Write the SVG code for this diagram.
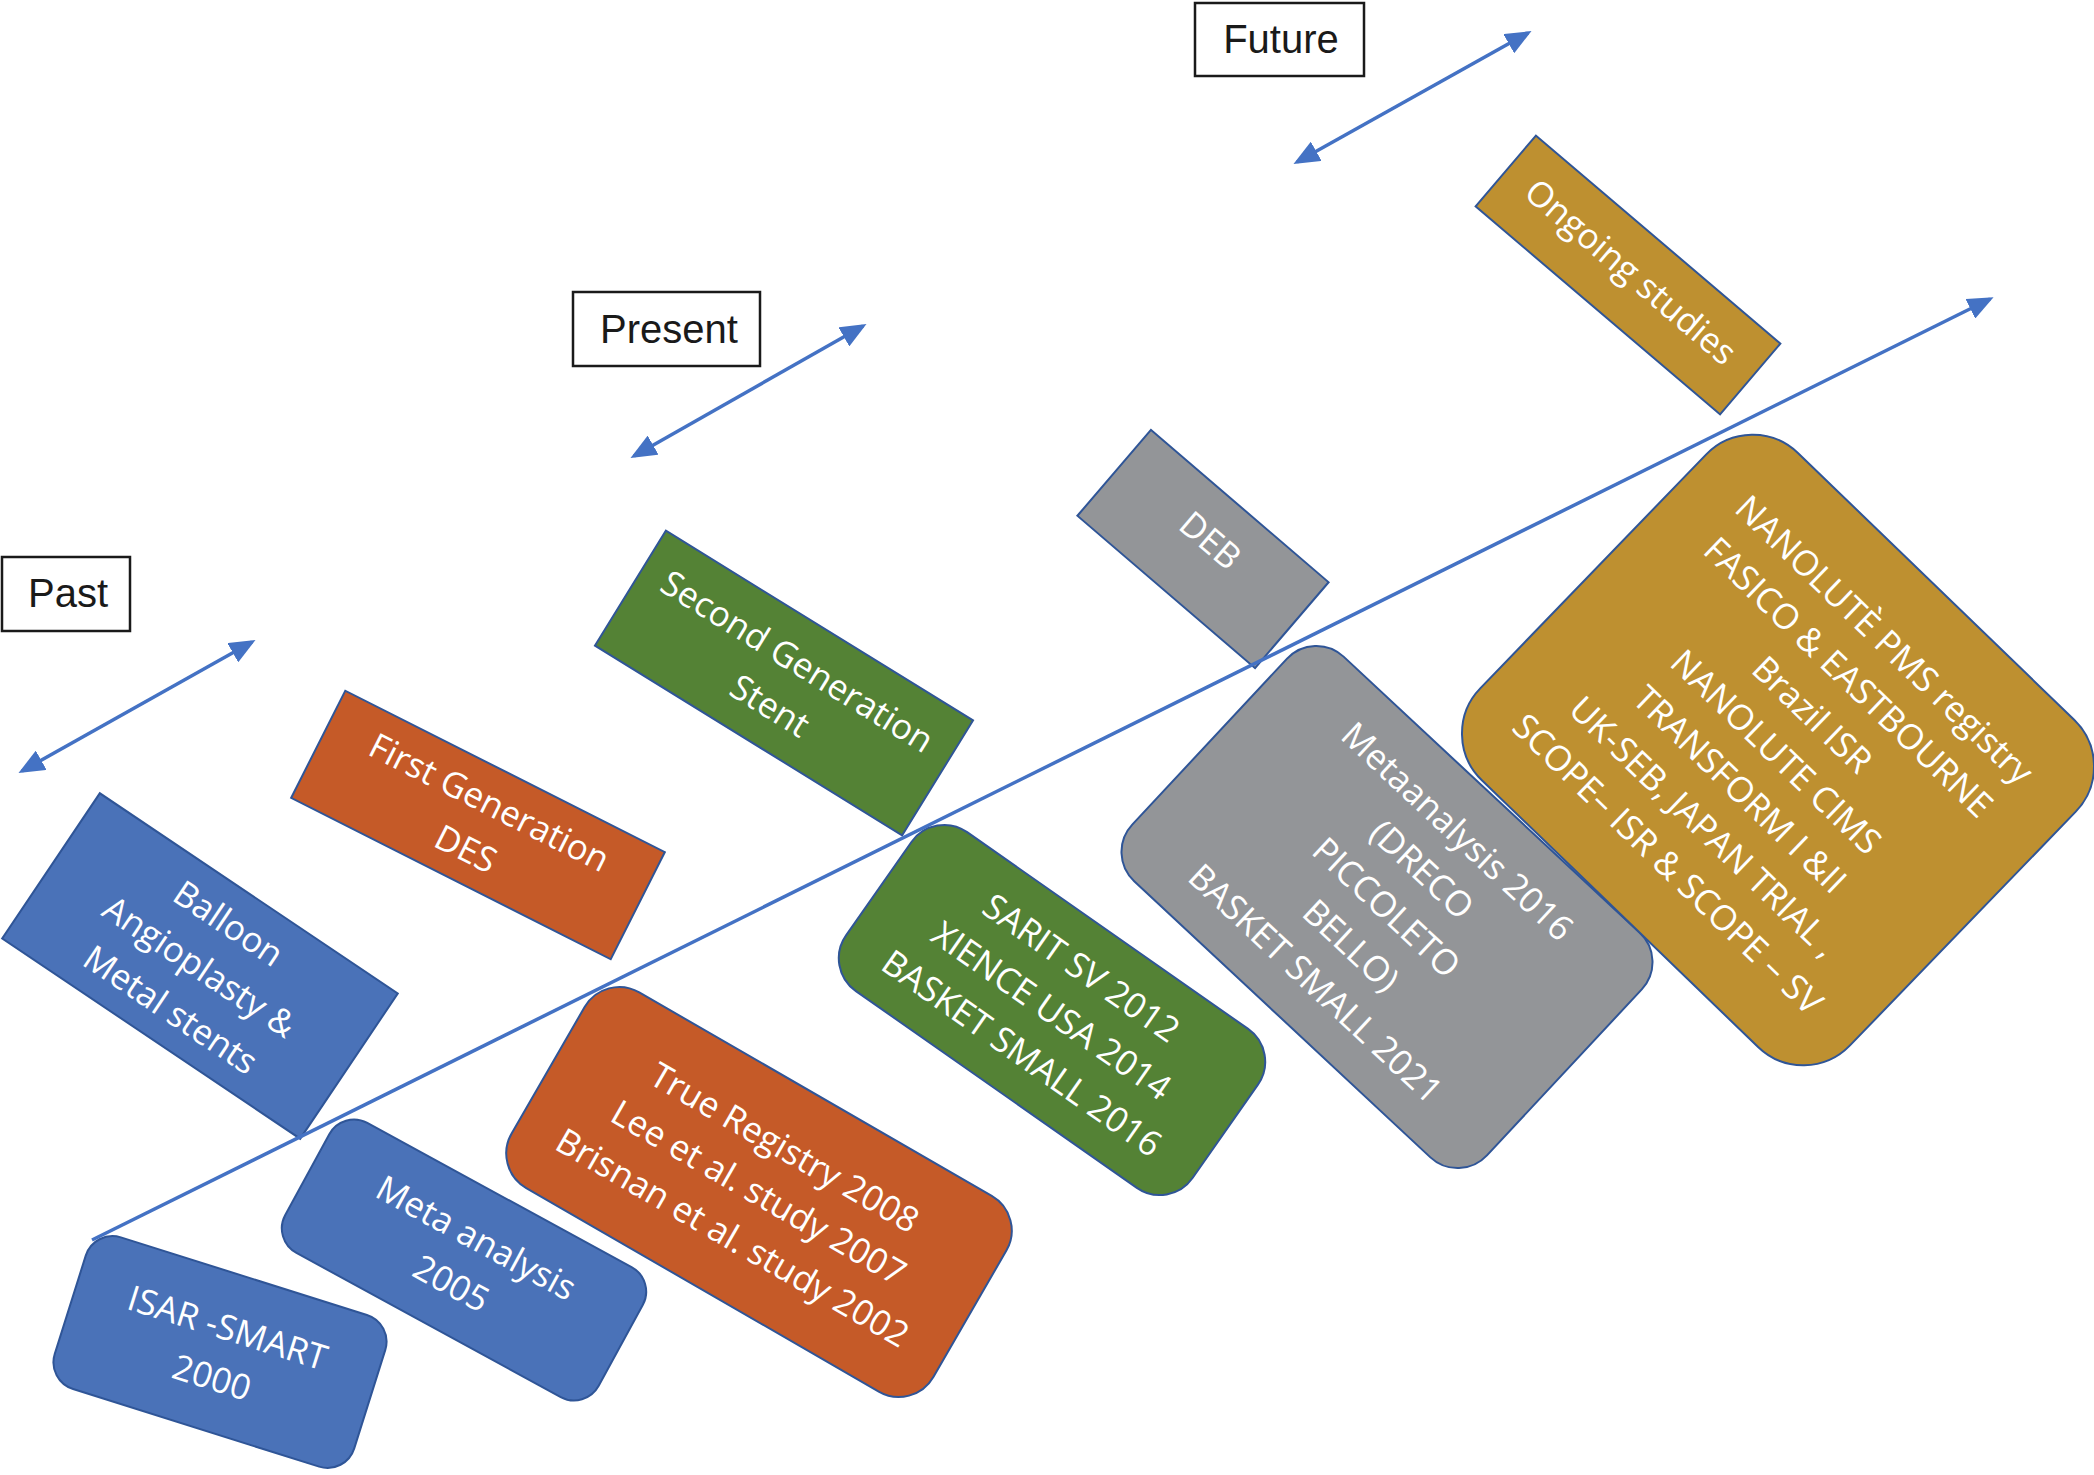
<svg xmlns="http://www.w3.org/2000/svg" width="2094" height="1475" viewBox="0 0 2094 1475">
<style>
.lbl{fill:#fff;stroke:#1a1a1a;stroke-width:2.5}
.lt{font-family:"Liberation Sans",Arial,sans-serif;font-size:40px;fill:#1a1a1a;text-anchor:middle}
.nd{stroke:#2F5597;stroke-width:2}
.t{font-family:"Open Sans","Noto Sans",sans-serif;font-size:35px;fill:#fff;text-anchor:middle}
.blue{fill:#4A72B8}.orange{fill:#C55A28}.green{fill:#548235}.gray{fill:#939598}.gold{fill:#BE9030}
.ar{fill:none;stroke:#4472C4;stroke-width:3.5}
</style>
<defs>
<marker id="ah" markerUnits="userSpaceOnUse" markerWidth="26" markerHeight="22" viewBox="0 0 26 22" refX="22" refY="11" orient="auto-start-reverse">
<path d="M0,0 L26,11 L0,22 z" fill="#4472C4"/>
</marker>
</defs>
<rect width="2094" height="1475" fill="#fff"/>

<g id="label-past"><rect class="lbl" x="2" y="557" width="128" height="74"/><text class="lt" x="68" y="607">Past</text></g>
<g id="label-present"><rect class="lbl" x="573" y="292" width="187" height="74"/><text class="lt" x="669" y="343">Present</text></g>
<g id="label-future"><rect class="lbl" x="1195" y="3" width="169" height="73"/><text class="lt" x="1281" y="53">Future</text></g>

<g id="n-balloon" transform="translate(200,966) rotate(33.9)">
<rect class="nd blue" x="-179.5" y="-87.5" width="359" height="175"/>
<text class="t"><tspan x="0" y="-39">Balloon</tspan><tspan x="0" y="13">Angioplasty &amp;</tspan><tspan x="0" y="65">Metal stents</tspan></text>
</g>
<g id="n-first-des" transform="translate(478,825) rotate(26.8)">
<rect class="nd orange" x="-179" y="-60" width="358" height="120"/>
<text class="t"><tspan x="0" y="-13">First Generation</tspan><tspan x="0" y="39">DES</tspan></text>
</g>
<g id="n-second-stent" transform="translate(784,683) rotate(31.7)">
<rect class="nd green" x="-180.5" y="-67.5" width="361" height="135"/>
<text class="t"><tspan x="0" y="-13">Second Generation</tspan><tspan x="0" y="39">Stent</tspan></text>
</g>
<g id="n-deb" transform="translate(1203,549) rotate(40.6)">
<rect class="nd gray" x="-117" y="-56.5" width="234" height="113"/>
<text class="t"><tspan x="0" y="1">DEB</tspan></text>
</g>
<g id="n-ongoing" transform="translate(1628,275) rotate(40.4)">
<rect class="nd gold" x="-160.5" y="-46.5" width="321" height="93"/>
<text class="t"><tspan x="0" y="8">Ongoing studies</tspan></text>
</g>
<g id="n-isar" transform="translate(220,1352) rotate(17.5)">
<rect class="nd blue" x="-157" y="-79.5" width="314" height="159" rx="28"/>
<text class="t"><tspan x="0" y="-13">ISAR -SMART</tspan><tspan x="0" y="39">2000</tspan></text>
</g>
<g id="n-meta2005" transform="translate(464,1260) rotate(28.6)">
<rect class="nd blue" x="-178.5" y="-74" width="357" height="148" rx="28"/>
<text class="t"><tspan x="0" y="-13">Meta analysis</tspan><tspan x="0" y="39">2005</tspan></text>
</g>
<g id="n-true" transform="translate(759,1192) rotate(30)">
<rect class="nd orange" x="-243.5" y="-113" width="487" height="226" rx="40"/>
<text class="t"><tspan x="0" y="-39">True Registry 2008</tspan><tspan x="0" y="13">Lee et al. study 2007</tspan><tspan x="0" y="65">Brisnan et al. study 2002</tspan></text>
</g>
<g id="n-sarit" transform="translate(1052,1010) rotate(35)">
<rect class="nd green" x="-211.5" y="-97" width="423" height="194" rx="40"/>
<text class="t"><tspan x="0" y="-39">SARIT SV 2012</tspan><tspan x="0" y="13">XIENCE USA 2014</tspan><tspan x="0" y="65">BASKET SMALL 2016</tspan></text>
</g>
<g id="n-metaanalysis" transform="translate(1387,907) rotate(43)">
<rect class="nd gray" x="-242.5" y="-153.5" width="485" height="307" rx="40"/>
<text class="t"><tspan x="0" y="-91">Metaanalysis 2016</tspan><tspan x="0" y="-39">(DRECO</tspan><tspan x="0" y="13">PICCOLETO</tspan><tspan x="0" y="65">BELLO)</tspan><tspan x="0" y="117">BASKET SMALL 2021</tspan></text>
</g>
<g id="n-nanolute" transform="translate(1778,750) rotate(44)">
<rect class="nd gold" x="-257" y="-227.5" width="514" height="455" rx="65"/>
<text class="t"><tspan x="0" y="-141">NANOLUTÈ PMS registry</tspan><tspan x="0" y="-89">FASICO &amp; EASTBOURNE</tspan><tspan x="0" y="-37">Brazil ISR</tspan><tspan x="0" y="15">NANOLUTE CIMS</tspan><tspan x="0" y="67">TRANSFORM I &amp;II</tspan><tspan x="0" y="119">UK-SEB, JAPAN TRIAL ,</tspan><tspan x="0" y="171">SCOPE– ISR &amp; SCOPE – SV</tspan></text>
</g>

<g id="connectors">
<line class="ar" x1="22" y1="771" x2="252" y2="642" marker-start="url(#ah)" marker-end="url(#ah)"/>
<line class="ar" x1="634" y1="456" x2="863" y2="326" marker-start="url(#ah)" marker-end="url(#ah)"/>
<line class="ar" x1="1297" y1="162" x2="1528" y2="33" marker-start="url(#ah)" marker-end="url(#ah)"/>
<line class="ar" x1="92" y1="1240" x2="1990" y2="299" marker-end="url(#ah)"/>
</g>
</svg>
